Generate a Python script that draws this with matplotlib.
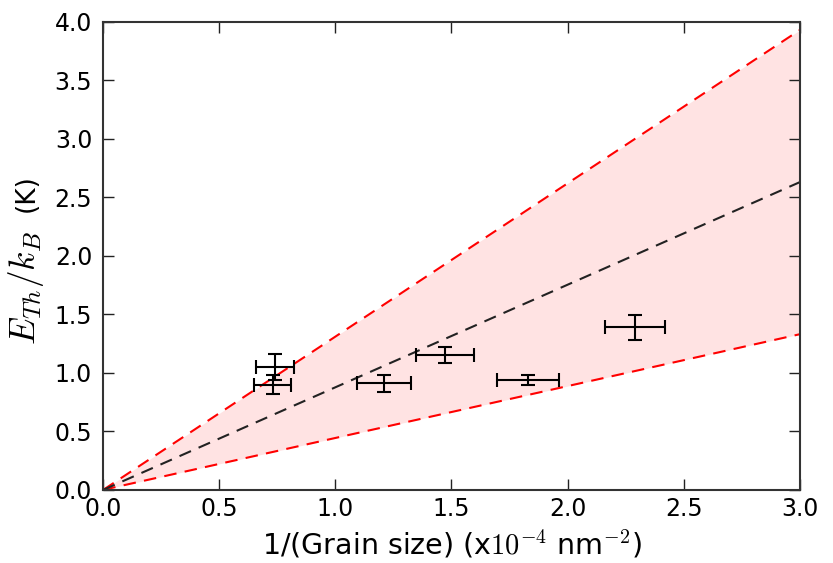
import numpy as np
import matplotlib
matplotlib.use("Agg")
import matplotlib.pyplot as plt

plt.rcParams['mathtext.fontset'] = 'cm'
plt.rcParams['font.family'] = ['DejaVu Sans']

# Data
x_pts = [0.74, 0.73, 1.21, 1.47, 1.83, 2.29]
y_pts = [1.05, 0.90, 0.91, 1.15, 0.94, 1.39]
x_err = [0.08, 0.08, 0.115, 0.125, 0.135, 0.13]
y_err = [0.11, 0.08, 0.075, 0.07, 0.045, 0.105]

slope_upper = 3.93 / 3.0
slope_mid = 2.63 / 3.0
slope_lower = 1.33 / 3.0

xticks = [0.0, 0.5, 1.0, 1.5, 2.0, 2.5, 3.0]
yticks = [0.0, 0.5, 1.0, 1.5, 2.0, 2.5, 3.0, 3.5, 4.0]

xline = np.array([0.0, 3.0])

fig = plt.figure(figsize=(8.33, 5.63), dpi=100)
ax = fig.add_axes([0.124, 0.130, 0.836, 0.831])

ax.fill_between(xline, slope_lower * xline, slope_upper * xline,
                color=(1.0, 0.0, 0.0), alpha=0.11, linewidth=0)
ax.plot(xline, slope_upper * xline, color='red', lw=1.5, dashes=(6, 4))
ax.plot(xline, slope_lower * xline, color='red', lw=1.5, dashes=(6, 4))
ax.plot(xline, slope_mid * xline, color='#222222', lw=1.5, dashes=(6, 4))

ax.errorbar(x_pts, y_pts, xerr=x_err, yerr=y_err, fmt='none',
            ecolor='black', elinewidth=1.5, capsize=5, capthick=1.5)

ax.set_xlim(0, 3.0)
ax.set_ylim(0, 4.0)
ax.set_xticks(xticks)
ax.set_yticks(yticks)
ax.set_xticklabels([f"{v:.1f}" for v in xticks])
ax.set_yticklabels([f"{v:.1f}" for v in yticks])
ax.tick_params(direction='in', top=True, right=True, length=8, width=1,
               labelsize=17, colors='#222222', labelcolor='black')
ax.tick_params(axis='x', pad=5)
ax.tick_params(axis='y', pad=8)
for s in ax.spines.values():
    s.set_linewidth(1.5)
    s.set_color('#333333')

ax.set_xlabel(r"1/(Grain size) (x$10^{-4}$ nm$^{-2}$)", fontsize=20.5, labelpad=6)

# y label: larger math part, then "(K)"
fig.text(35 / 833, 1 - 345 / 563, r"$E_{Th}/k_B$", fontsize=25.5, rotation=90,
         rotation_mode='anchor', ha='left', va='baseline')
fig.text(34 / 833, 1 - 212 / 563, "(K)", fontsize=19, rotation=90,
         rotation_mode='anchor', ha='left', va='baseline')

fig.savefig("out.png", dpi=100)
